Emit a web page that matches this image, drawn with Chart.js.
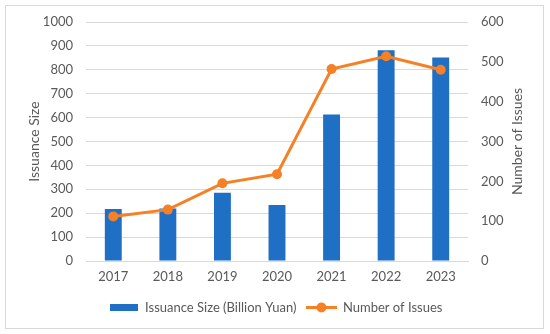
<!DOCTYPE html>
<html>
<head>
<meta charset="utf-8">
<script src="https://cdn.jsdelivr.net/npm/chart.js@4"></script>
<style>
  body { margin: 0; background: #fff; }
  #wrap { position: relative; width: 550px; height: 334px; }
  #frame { position: absolute; left: 5px; top: 5px; width: 537px; height: 322px;
           border: 1px solid #d9d9d9; pointer-events: none; }
</style>
</head>
<body>
<div id="wrap">
  <canvas id="myChart" width="550" height="334"></canvas>
  <div id="frame"></div>
</div>
<script>
var years = ['2017', '2018', '2019', '2020', '2021', '2022', '2023'];
var issuanceSize = [218, 220, 286, 234, 613, 882, 851];
var numberOfIssues = [112, 129, 195, 218, 482, 514, 480];
var leftTicks = [0, 100, 200, 300, 400, 500, 600, 700, 800, 900, 1000];
var rightTicks = [0, 100, 200, 300, 400, 500, 600];

var blue = '#1f6fc5';
var orange = '#f58025';
var textColor = '#595959';
var gridColor = '#d9d9d9';
var fontFamily = 'Lato, "Noto Sans", sans-serif';

// little legend pictures
function makeMarker(w, h, draw) {
    var c = document.createElement('canvas');
    c.width = w;
    c.height = h;
    draw(c.getContext('2d'));
    return c;
}
var barMarker = makeMarker(28, 7, function (g) {
    g.fillStyle = blue;
    g.fillRect(0, 0, 28, 7);
});
var lineMarker = makeMarker(31, 11, function (g) {
    g.strokeStyle = orange;
    g.lineWidth = 3;
    g.beginPath();
    g.moveTo(0, 5.5);
    g.lineTo(31, 5.5);
    g.stroke();
    g.fillStyle = orange;
    g.beginPath();
    g.arc(15.5, 5.5, 5, 0, Math.PI * 2);
    g.fill();
});

// right axis title reads bottom-to-top like the left one
var rightTitle = {
    id: 'rightTitle',
    afterDraw: function (chart) {
        var s = chart.scales.y1;
        var g = chart.ctx;
        g.save();
        g.translate(517, (s.top + s.bottom) / 2);
        g.rotate(-Math.PI / 2);
        g.fillStyle = textColor;
        g.font = '14px ' + fontFamily;
        g.textAlign = 'center';
        g.textBaseline = 'middle';
        g.fillText('Number of Issues', 0, 0);
        g.restore();
    }
};

var ctx = document.getElementById('myChart').getContext('2d');
var myChart = new Chart(ctx, {
    type: 'bar',
    data: {
        labels: years,
        datasets: [{
            type: 'line',
            label: 'Number of Issues',
            data: numberOfIssues,
            yAxisID: 'y1',
            borderColor: orange,
            backgroundColor: orange,
            borderWidth: 3,
            pointRadius: 5,
            pointBackgroundColor: orange,
            pointBorderWidth: 0,
            tension: 0,
            order: 1
        }, {
            type: 'bar',
            label: 'Issuance Size (Billion Yuan)',
            data: issuanceSize,
            yAxisID: 'y',
            backgroundColor: blue,
            categoryPercentage: 1,
            barPercentage: 0.31,
            order: 2
        }]
    },
    plugins: [rightTitle],
    options: {
        responsive: false,
        animation: false,
        layout: { padding: { left: 20, right: 19, top: 22, bottom: 10 } },
        plugins: {
            tooltip: { enabled: false },
            legend: {
                position: 'bottom',
                labels: {
                    usePointStyle: true,
                    color: textColor,
                    font: { family: fontFamily, size: 13 },
                    padding: 10,
                    generateLabels: function (chart) {
                        return [{
                            text: 'Issuance Size (Billion Yuan)',
                            pointStyle: barMarker,
                            fontColor: textColor,
                            datasetIndex: 1
                        }, {
                            text: 'Number of Issues',
                            pointStyle: lineMarker,
                            fontColor: textColor,
                            datasetIndex: 0
                        }];
                    },
                    pointStyleWidth: 30
                }
            }
        },
        scales: {
            x: {
                grid: { display: false, drawTicks: false },
                border: { color: gridColor },
                ticks: { color: textColor, font: { family: fontFamily, size: 13 }, padding: 8 },
                afterFit: function (s) { s.height = 30; }
            },
            y: {
                position: 'left',
                min: 0,
                max: 1000,
                afterBuildTicks: function (s) { s.ticks = leftTicks.map(function (v) { return { value: v }; }); },
                grid: { color: gridColor, drawTicks: false },
                border: { display: false },
                ticks: { color: textColor, font: { family: fontFamily, size: 13 }, padding: 13,
                         callback: function (v) { return String(v); } },
                title: { display: true, text: 'Issuance Size', color: textColor,
                         font: { family: fontFamily, size: 14 }, padding: { top: 6, bottom: 0 } },
                afterFit: function (s) { s.width = 66; }
            },
            y1: {
                position: 'right',
                min: 0,
                max: 600,
                afterBuildTicks: function (s) { s.ticks = rightTicks.map(function (v) { return { value: v }; }); },
                grid: { display: false, drawTicks: false },
                border: { display: false },
                ticks: { color: textColor, font: { family: fontFamily, size: 13 }, padding: 13,
                         callback: function (v) { return String(v); } },
                afterFit: function (s) { s.width = 63; }
            }
        }
    }
});
</script>
</body>
</html>
